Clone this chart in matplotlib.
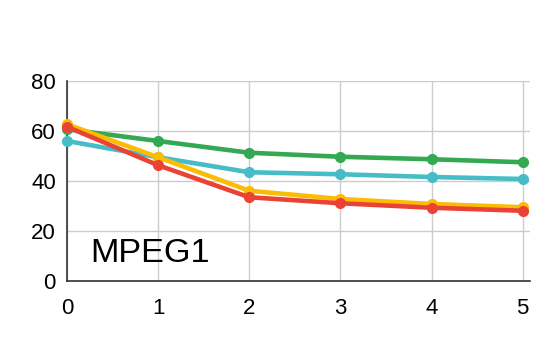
import matplotlib
matplotlib.use("Agg")
import matplotlib.pyplot as plt

plt.rcParams['font.family'] = ['Liberation Sans', 'DejaVu Sans']

# series values
x = [0, 1, 2, 3, 4, 5]
green = [60.7, 56.0, 51.3, 49.7, 48.7, 47.5]
cyan = [56.0, 49.5, 43.5, 42.7, 41.6, 40.8]
yellow = [62.7, 49.5, 36.1, 32.8, 30.8, 29.5]
red = [61.7, 46.3, 33.5, 31.1, 29.3, 28.1]

series = [(green, '#34a853'), (cyan, '#46bdc6'), (yellow, '#fbbc04'), (red, '#ea4335')]

fig = plt.figure(figsize=(5.46, 3.38), dpi=100)
ax = fig.add_axes([67 / 546, 57 / 338, 463 / 546, 200 / 338])

for vals, col in series:
    ax.plot(x, vals, color=col, lw=3.3, marker='o', ms=7, clip_on=False, zorder=3)

ax.set_xlim(0, 5.08)
ax.set_ylim(0, 80)
ax.set_xticks(x)
ax.set_yticks([0, 20, 40, 60, 80])
ax.grid(True, color='#cccccc', lw=1)
ax.set_axisbelow(True)
for s in ['top', 'right']:
    ax.spines[s].set_visible(False)
for s in ['left', 'bottom']:
    ax.spines[s].set_color('#333333')
    ax.spines[s].set_linewidth(1.2)
    ax.spines[s].set_zorder(2)
ax.tick_params(length=0, labelsize=16, colors='black')
ax.tick_params(axis='x', pad=12.5)
ax.tick_params(axis='y', pad=8)

ax.text(0.26, 7.5, 'MPEG1', fontsize=24.7, color='black', ha='left', va='baseline')

fig.savefig('out.png', dpi=100)
